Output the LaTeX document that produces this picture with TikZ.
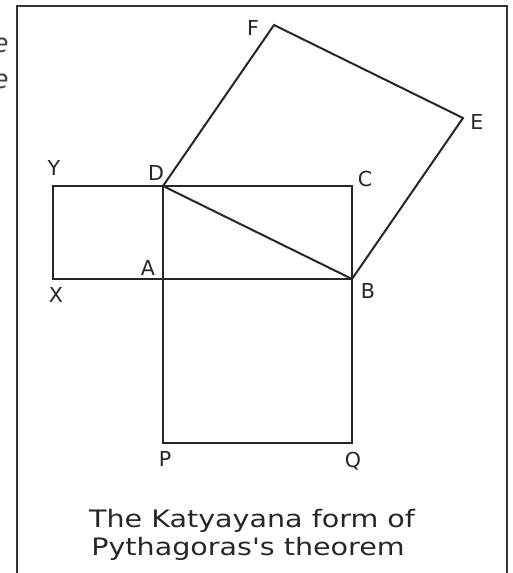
\documentclass[tikz,border=0pt]{standalone}
\usepackage{fontspec}
\newfontfamily\genevafont{DejaVu Sans}
\newfontfamily\captionfont{DejaVu Sans}[FakeStretch=1.19]
\usetikzlibrary{positioning, calc}

\tikzset{
    edge/.style={line width=1pt, black!85, line join=miter},
    lbl/.style={font=\genevafont\fontsize{10.3}{12}\selectfont, text=black!85, inner sep=0pt},
    captxt/.style={font=\captionfont\fontsize{12}{14}\selectfont, text=black!85, inner sep=0pt, anchor=base}
}

\begin{document}
\begin{tikzpicture}[x=0.5pt, y=-0.5pt]
    \useasboundingbox (0,0) rectangle (513,573);

    % ---------------- FRAME ----------------
    \draw[line width=1pt, black!80] (17,590) -- (17,6) -- (507,6) -- (507,590);
    \node[font=\genevafont\itshape\fontsize{13}{14}\selectfont, text=black!75, anchor=east, inner sep=0pt] (cutA) at (9,45) {e};
    \node[font=\genevafont\itshape\fontsize{13}{14}\selectfont, text=black!75, anchor=east, inner sep=0pt] (cutB) at (9,81) {e};

    % ---------------- POINTS ----------------
    \coordinate (A) at (163,279);
    \coordinate (B) at (352,279);
    \coordinate (C) at (352,186);
    \coordinate (D) at (163,186);
    \coordinate (X) at (53,279);
    \coordinate (Y) at (53,186);
    \coordinate (P) at (163,443);
    \coordinate (Q) at (352,443);
    \coordinate (F) at (274,25);
    \coordinate (E) at (463,118);

    % Rectangle and squares
    \draw[edge] (A) -- (B) -- (C) -- (D) -- cycle;
    \draw[edge] (A) -- (X) -- (Y) -- (D);
    \draw[edge] (A) -- (P) -- (Q) -- (B);
    \draw[edge] (D) -- (B);
    \draw[edge] (D) -- (F) -- (E) -- (B);

    % Labels
    \node[lbl] (lY) at (54,168) {Y};
    \node[lbl] (lD) at (156,173) {D};
    \node[lbl] (lA) at (148,268) {A};
    \node[lbl] (lX) at (56,295) {X};
    \node[lbl] (lC) at (365,179) {C};
    \node[lbl] (lB) at (368,291) {B};
    \node[lbl] (lE) at (477,122) {E};
    \node[lbl] (lF) at (253,28) {F};
    \node[lbl] (lP) at (165,459) {P};
    \node[lbl] (lQ) at (353,461) {Q};

    % Caption
    \node[captxt] (cap1) at (252,527) {The Katyayana form of};
    \node[captxt] (cap2) at (248,555) {Pythagoras's theorem};
\end{tikzpicture}
\end{document}
